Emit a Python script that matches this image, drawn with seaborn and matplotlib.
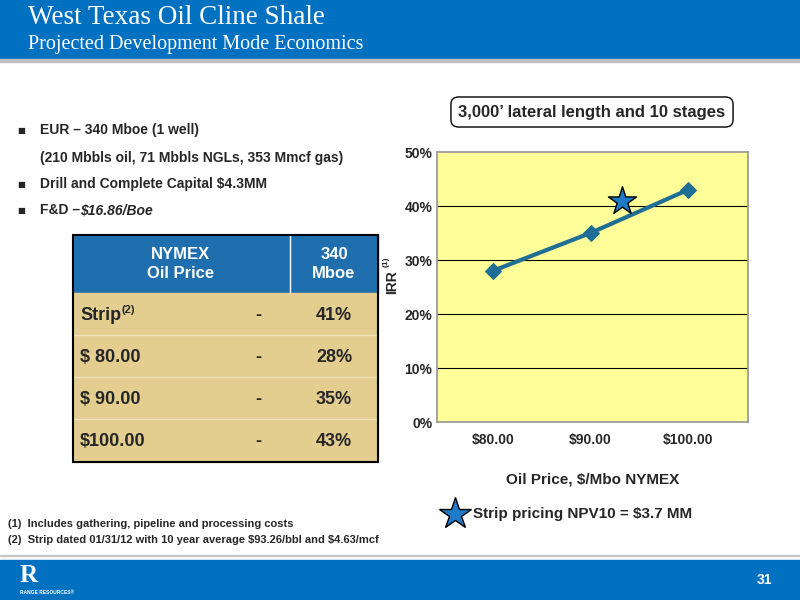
import matplotlib
matplotlib.use("Agg")
import matplotlib.pyplot as plt
import seaborn as sns
import pandas as pd
from matplotlib.patches import Rectangle

# data
prices = [80, 90, 100]
irr = [28, 35, 43]
strip_price = 93.26
strip_irr = 41
price_labels = ["$80.00", "$90.00", "$100.00"]
yticks = [0, 10, 20, 30, 40, 50]
table_rows = ["Strip", "$ 80.00", "$ 90.00", "$100.00"]
table_vals = ["41%", "28%", "35%", "43%"]

sns.set_theme(style="white")
plt.rcParams['font.family'] = ['Liberation Sans', 'DejaVu Sans']

BLUE = "#0070c0"
fig = plt.figure(figsize=(8, 6), dpi=100)
W, H = 800, 600
def fx(px): return px / W
def fy(py): return 1 - py / H

# header / footer bands
fig.patches.append(Rectangle((0, fy(58)), 1, 58 / H, transform=fig.transFigure, color=BLUE, zorder=0))
fig.patches.append(Rectangle((0, fy(62)), 1, 3 / H, transform=fig.transFigure, color="#c0c0c0", zorder=0))
fig.patches.append(Rectangle((0, 0), 1, 40 / H, transform=fig.transFigure, color=BLUE, zorder=0))
fig.patches.append(Rectangle((0, fy(556)), 1, 1.5 / H, transform=fig.transFigure, color="#c8c8c8", zorder=0))
fig.text(fx(28), fy(18), "West Texas Oil Cline Shale", color="white", fontsize=19.5,
         family="Liberation Serif", va="center")
fig.text(fx(28), fy(44), "Projected Development Mode Economics", color="white", fontsize=14.5,
         family="Liberation Serif", va="center")
fig.text(fx(772), fy(580), "31", color="white", fontsize=10, weight="bold", ha="right", va="center")
fig.text(fx(20), fy(576), "R", color="white", fontsize=18, weight="bold", family="Liberation Serif", va="center")
fig.text(fx(20), fy(592), "RANGE RESOURCES®", color="white", fontsize=3.5, weight="bold", va="center")

# bullets
bul = [(130, "EUR – 340 Mboe (1 well)", True),
       (158, "(210 Mbbls oil, 71 Mbbls NGLs, 353 Mmcf gas)", False),
       (184, "Drill and Complete Capital $4.3MM", True),
       (210, "F&D –", True)]
for y, t, b in bul:
    if b:
        fig.text(fx(17), fy(y), "■", fontsize=6, va="center", family="DejaVu Sans")
    fig.text(fx(40), fy(y), t, fontsize=10, weight="bold", va="center")
fig.text(fx(80), fy(210), "$16.86/Boe", fontsize=10, weight="bold", style="italic", va="center")

# table
tx0, tx1, tmid = 73, 378, 290
fig.patches.append(Rectangle((fx(tx0), fy(293)), (tx1 - tx0) / W, 58 / H, transform=fig.transFigure,
                             color="#1f6fae", zorder=1))
fig.patches.append(Rectangle((fx(tx0), fy(462)), (tx1 - tx0) / W, 169 / H, transform=fig.transFigure,
                             color="#e3cd8f", zorder=1))
fig.patches.append(Rectangle((fx(tx0), fy(462)), (tx1 - tx0) / W, 227 / H, transform=fig.transFigure,
                             fill=False, ec="black", lw=1.5, zorder=3))
fig.lines.append(plt.Line2D([fx(tmid), fx(tmid)], [fy(235), fy(293)], transform=fig.transFigure,
                            color="white", lw=1, zorder=2))
for yl in [335, 377, 419]:
    fig.lines.append(plt.Line2D([fx(tx0), fx(tx1)], [fy(yl), fy(yl)], transform=fig.transFigure,
                                color="#f0e4c0", lw=1, zorder=2))
fig.text(fx(181), fy(264), "NYMEX\nOil Price", color="white", fontsize=12, weight="bold",
         ha="center", va="center", linespacing=1.3, zorder=4)
fig.text(fx(334), fy(264), "340\nMboe", color="white", fontsize=12, weight="bold",
         ha="center", va="center", linespacing=1.3, zorder=4)
for i, (r, v) in enumerate(zip(table_rows, table_vals)):
    y = fy(315 + i * 42)
    fig.text(fx(80), y, r.replace("$", r"\$"), fontsize=13, weight="bold", va="center", zorder=4)
    if r == "Strip":
        fig.text(fx(122), y + 5 / H, "(2)", fontsize=8, weight="bold", va="center", zorder=4)
    fig.text(fx(258), y, "-", fontsize=13, weight="bold", ha="center", va="center", zorder=4)
    fig.text(fx(334), y, v, fontsize=13, weight="bold", ha="center", va="center", zorder=4)

# chart
ax = fig.add_axes([fx(437), fy(422), (748 - 437) / W, 270 / H])
ax.set_facecolor("#ffff99")
df = pd.DataFrame({"price": prices, "irr": irr})
sns.lineplot(data=df, x="price", y="irr", ax=ax, color="#1f6e96", lw=3, marker="D",
             markersize=8, markeredgecolor="#1f6e96")
ax.scatter([strip_price], [strip_irr], marker="*", s=450, color="#1f7ac8", edgecolor="black",
           linewidth=1, zorder=5)
ax.set_xlim(74.26, 106.15)
ax.set_ylim(0, 50)
ax.set_yticks(yticks)
ax.set_yticklabels([f"{v}%" for v in yticks], fontsize=10, weight="bold")
ax.set_xticks(prices)
ax.set_xticklabels(price_labels, fontsize=10, weight="bold")
ax.tick_params(axis="x", pad=8, length=0)
ax.tick_params(axis="y", length=0)
for v in yticks[1:-1]:
    ax.axhline(v, color="black", lw=0.8, zorder=1)
for s in ax.spines.values():
    s.set_color("#999999")
ax.set_xlabel("Oil Price, $/Mbo NYMEX".replace("$", r"\$"), fontsize=11, weight="bold", labelpad=18)
ax.set_ylabel("")
fig.text(fx(392), fy(282), "IRR", rotation=90, fontsize=10, weight="bold", ha="center", va="center")
fig.text(fx(386), fy(262), "(1)", rotation=90, fontsize=6, weight="bold", ha="center", va="center")

# chart title box
fig.text(fx(592), fy(112), "3,000’ lateral length and 10 stages", fontsize=12, weight="bold",
         ha="center", va="center",
         bbox=dict(boxstyle="round,pad=0.45", fc="white", ec="black", lw=1))

# star legend
fig.add_artist(plt.Line2D([fx(455)], [fy(514)], marker="*", markersize=24, color="#1f7ac8",
                          markeredgecolor="black", markeredgewidth=1, ls="none",
                          transform=fig.transFigure))
fig.text(fx(473), fy(514), "Strip pricing NPV10 = \\$3.7 MM", fontsize=11, weight="bold", va="center")

# footnotes
fig.text(fx(8), fy(524), "(1)  Includes gathering, pipeline and processing costs", fontsize=8,
         weight="bold", va="center")
fig.text(fx(8), fy(540), r"(2)  Strip dated 01/31/12 with 10 year average \$93.26/bbl and \$4.63/mcf",
         fontsize=8, weight="bold", va="center")

fig.savefig("out.png", dpi=100)
